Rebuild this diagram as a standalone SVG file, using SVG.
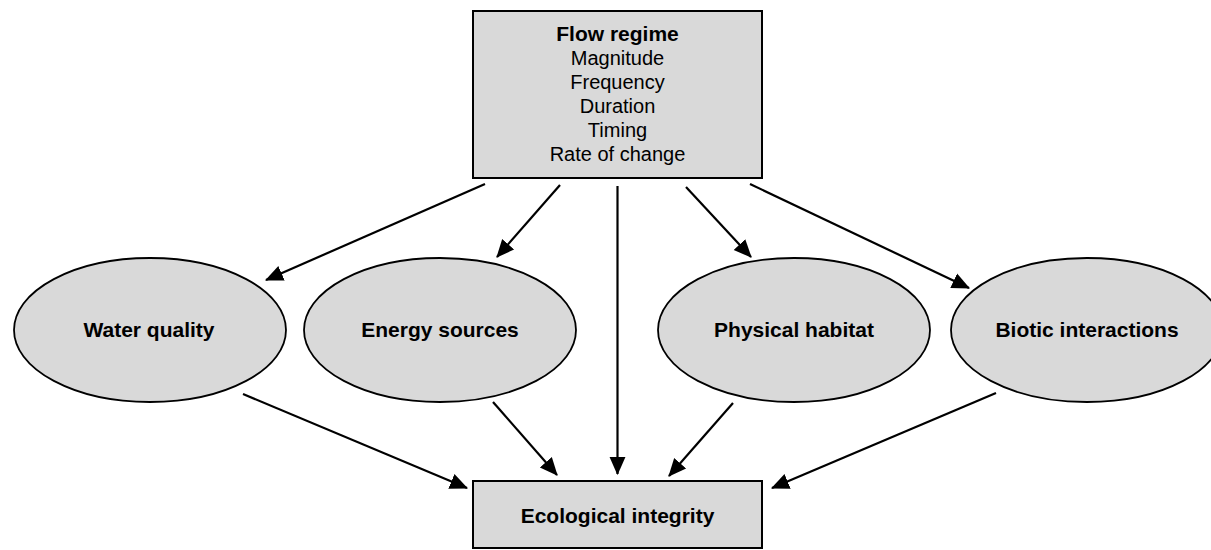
<svg xmlns="http://www.w3.org/2000/svg" width="1211" height="550" viewBox="0 0 1211 550">
<defs>
<style>
.node{fill:#d9d9d9;stroke:#000;stroke-width:2}
.ell{fill:#d9d9d9;stroke:#000;stroke-width:1.8}
.b{font-family:"Liberation Sans",Arial,sans-serif;font-weight:bold;font-size:21px;text-anchor:middle;fill:#000}
.r{font-family:"Liberation Sans",Arial,sans-serif;font-size:20px;text-anchor:middle;fill:#000}
.c{stroke:#000;stroke-width:2.2;fill:none;marker-end:url(#ah)}
</style>
<marker id="ah" markerUnits="userSpaceOnUse" markerWidth="18" markerHeight="18" viewBox="0 -8 17 16" refX="16" refY="0" orient="auto">
<path d="M0,-7.5 L17,0 L0,7.5 z" fill="#000"/>
</marker>
</defs>
<g id="flow-regime">
<rect class="node" x="473" y="11" width="289" height="167"/>
<text class="b" x="617.5" y="41">Flow regime</text>
<text class="r" x="617.5" y="65">Magnitude</text>
<text class="r" x="617.5" y="89">Frequency</text>
<text class="r" x="617.5" y="113">Duration</text>
<text class="r" x="617.5" y="137">Timing</text>
<text class="r" x="617.5" y="161">Rate of change</text>
</g>
<g id="water-quality">
<ellipse class="ell" cx="150" cy="330" rx="136" ry="72"/>
<text class="b" x="149" y="337">Water quality</text>
</g>
<g id="energy-sources">
<ellipse class="ell" cx="440" cy="330" rx="136" ry="72"/>
<text class="b" x="440" y="337">Energy sources</text>
</g>
<g id="physical-habitat">
<ellipse class="ell" cx="794" cy="330" rx="136" ry="72"/>
<text class="b" x="794" y="337">Physical habitat</text>
</g>
<g id="biotic-interactions">
<ellipse class="ell" cx="1087" cy="330" rx="136" ry="72"/>
<text class="b" x="1087" y="337">Biotic interactions</text>
</g>
<g id="ecological-integrity">
<rect class="node" x="473" y="481" width="289" height="67"/>
<text class="b" x="617.5" y="523">Ecological integrity</text>
</g>
<g id="connectors">
<line class="c" x1="485" y1="184" x2="266" y2="280"/>
<line class="c" x1="560" y1="185" x2="497" y2="257"/>
<line class="c" x1="617.5" y1="186" x2="617.5" y2="474"/>
<line class="c" x1="686" y1="187" x2="751" y2="257"/>
<line class="c" x1="750" y1="184" x2="969" y2="288"/>
<line class="c" x1="243" y1="394" x2="467" y2="488"/>
<line class="c" x1="493" y1="402" x2="557" y2="475"/>
<line class="c" x1="733" y1="403" x2="669" y2="476"/>
<line class="c" x1="996" y1="393" x2="772" y2="488"/>
</g>
</svg>
